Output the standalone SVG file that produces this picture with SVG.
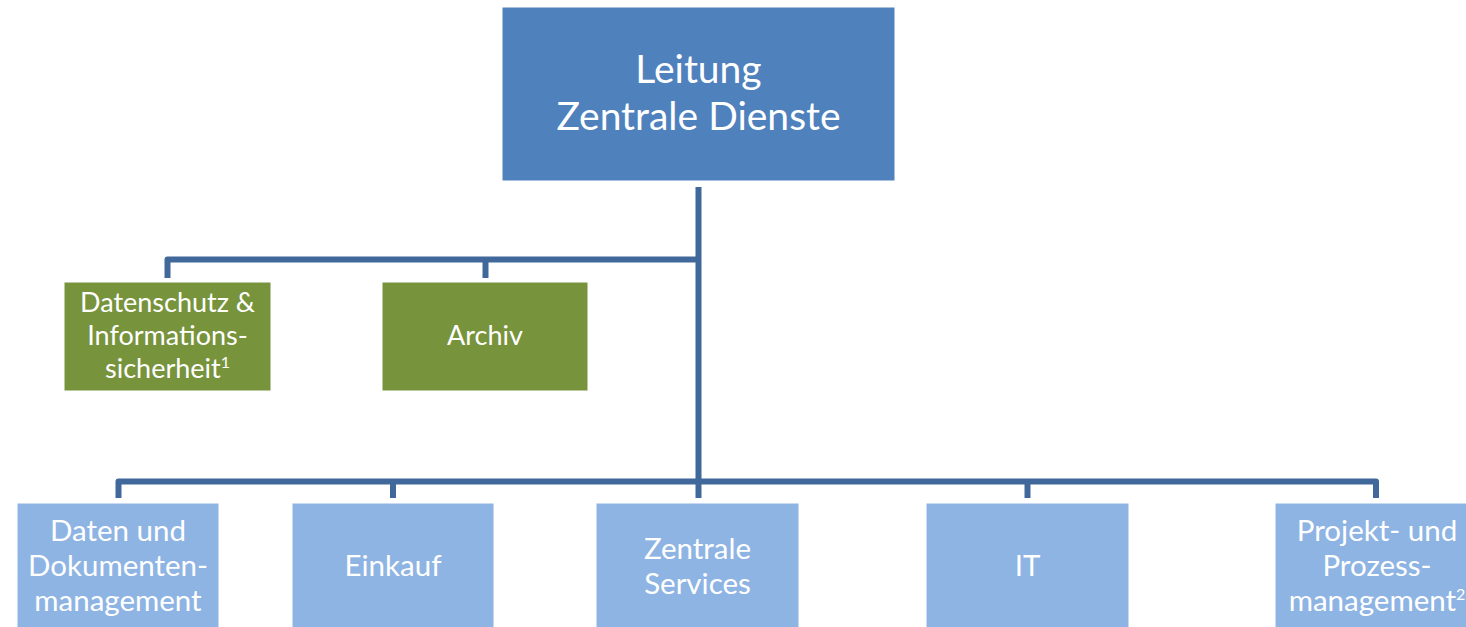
<svg xmlns="http://www.w3.org/2000/svg" width="1466" height="627" viewBox="0 0 1466 627">
  <style>
    .lead { fill: #4F81BD; }
    .staff { fill: #77933C; }
    .unit { fill: #8EB4E3; }
    .box { stroke: #ffffff; stroke-width: 1; }
    .lbl { font-family: Lato, "Liberation Sans", sans-serif; fill: #ffffff; text-anchor: middle; }
    .lbl-lead { font-size: 39px; }
    .lbl-staff { font-size: 27px; }
    .lbl-unit { font-size: 29.5px; }
    .sup { font-size: 16px; }
    .wire { fill: none; stroke: #41689B; stroke-width: 6; stroke-linejoin: round; }
  </style>
  <rect width="1466" height="627" fill="#ffffff"/>

  <!-- connectors -->
  <g id="connectors">
    <path class="wire" d="M698.5 187 V498"/>
    <path class="wire" d="M698.5 259.5 H167.5 V278"/>
    <path class="wire" d="M485.5 259.5 V278"/>
    <path class="wire" d="M118.5 498 V481.5 H1376 V498"/>
    <path class="wire" d="M393 481.5 V498"/>
    <path class="wire" d="M1027.5 481.5 V498"/>
  </g>

  <!-- head of department -->
  <g id="leitung">
    <rect class="lead box" x="502" y="7" width="393" height="174"/>
    <text class="lbl lbl-lead" x="698.5" y="83">Leitung</text>
    <text class="lbl lbl-lead" x="698.5" y="130">Zentrale Dienste</text>
  </g>

  <!-- staff units -->
  <g id="datenschutz">
    <rect class="staff box" x="64" y="282" width="207" height="109"/>
    <text class="lbl lbl-staff" x="167.5" y="312">Datenschutz &amp;</text>
    <text class="lbl lbl-staff" x="167.5" y="345">Informations-</text>
    <text class="lbl lbl-staff" x="167.5" y="378">sicherheit<tspan class="sup" dy="-10">1</tspan></text>
  </g>
  <g id="archiv">
    <rect class="staff box" x="382" y="282" width="206" height="109"/>
    <text class="lbl lbl-staff" x="485" y="345">Archiv</text>
  </g>

  <!-- line units -->
  <g id="dokumentenmanagement">
    <rect class="unit box" x="17" y="503" width="202" height="127"/>
    <text class="lbl lbl-unit" x="118" y="541">Daten und</text>
    <text class="lbl lbl-unit" x="118" y="576">Dokumenten-</text>
    <text class="lbl lbl-unit" x="118" y="611">management</text>
  </g>
  <g id="einkauf">
    <rect class="unit box" x="292" y="503" width="202" height="127"/>
    <text class="lbl lbl-unit" x="393" y="576">Einkauf</text>
  </g>
  <g id="zentrale-services">
    <rect class="unit box" x="596" y="503" width="203" height="127"/>
    <text class="lbl lbl-unit" x="697.5" y="559">Zentrale</text>
    <text class="lbl lbl-unit" x="697.5" y="594">Services</text>
  </g>
  <g id="it">
    <rect class="unit box" x="926" y="503" width="203" height="127"/>
    <text class="lbl lbl-unit" x="1027.5" y="576">IT</text>
  </g>
  <g id="projektmanagement">
    <rect class="unit box" x="1275" y="503" width="204" height="127"/>
    <text class="lbl lbl-unit" x="1377" y="541">Projekt- und</text>
    <text class="lbl lbl-unit" x="1377" y="576">Prozess-</text>
    <text class="lbl lbl-unit" x="1377" y="611">management<tspan class="sup" dy="-11">2</tspan></text>
  </g>
</svg>
